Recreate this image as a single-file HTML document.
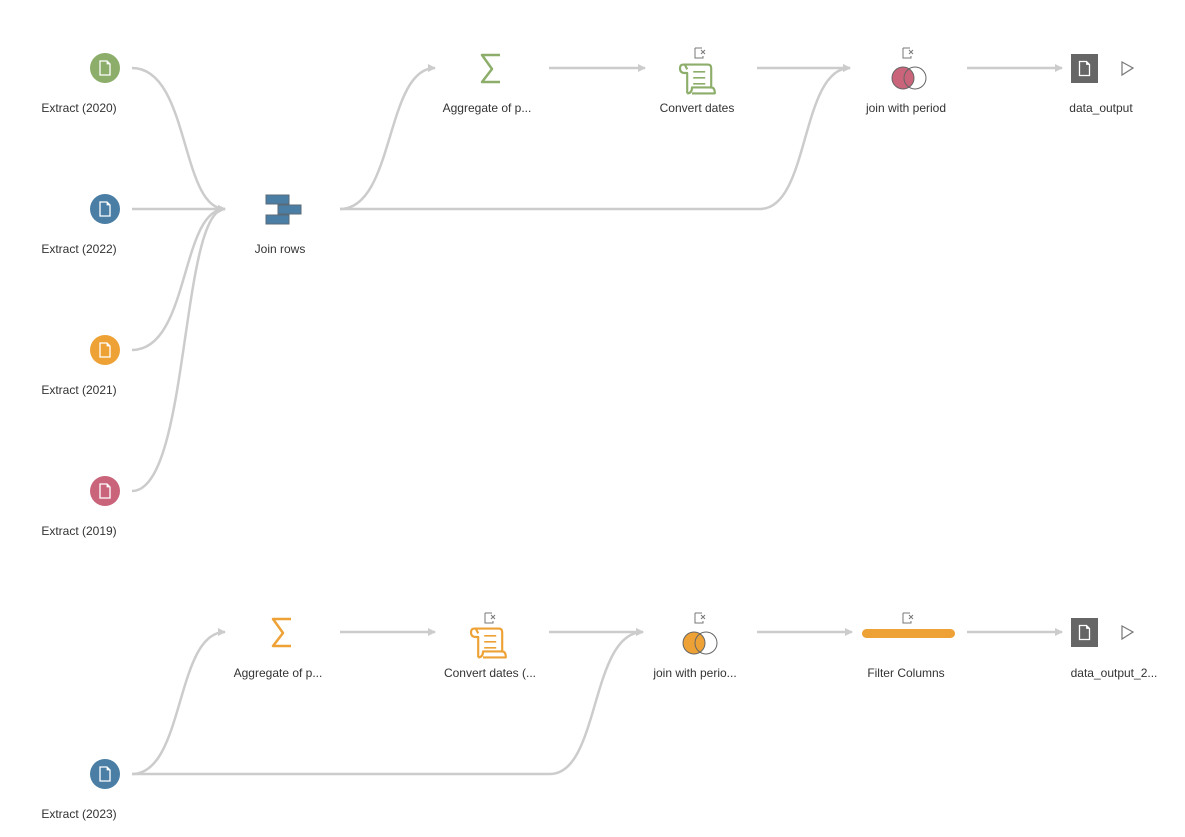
<!DOCTYPE html>
<html><head><meta charset="utf-8"><style>
html,body{margin:0;padding:0;background:#fff;width:1185px;height:837px;overflow:hidden}
svg text{font-family:"Liberation Sans",sans-serif;font-size:12px;fill:#333;text-anchor:middle}
</style></head><body>
<svg width="1185" height="837" viewBox="0 0 1185 837" xmlns="http://www.w3.org/2000/svg">
<defs>
<marker id="a" markerWidth="8" markerHeight="8" refX="7" refY="4" orient="auto" markerUnits="userSpaceOnUse">
<path d="M0,0 L8,4 L0,8 z" fill="#ccc"/></marker>
<g id="doc"><path d="M-5,-7 L2,-7 L5,-4 L5,7 L-5,7 z" fill="none" stroke="#fff" stroke-width="1.3"/><path d="M2,-7 L2,-4 L5,-4" fill="#fff" stroke="#fff" stroke-width="0.8"/></g>
<g id="x"><path d="M-5,-5 L2,-5 M-5,-5 L-5,5 L3,5 L3,3" fill="none" stroke="#777" stroke-width="1"/><path d="M1,-3 L5,1 M5,-3 L1,1" stroke="#777" stroke-width="1"/></g>
<g id="scroll" fill="none" stroke-width="1.8" stroke-linejoin="round" transform="scale(1.2)"><path d="M-12,-12 L8,-12 Q11,-12 11,-9 L11,8 M-12,-12 Q-15,-12 -15,-9 Q-15,-5 -11,-5 L-9,-5 L-9,12 M-11,-12 L-9,-8 M-5,12 L14,12 Q14,7 11,7 L-5,7 Q-5,12 -9,12"/><path d="M-4,-6 L6,-6 M-4,-1 L6,-1 M-4,4 L6,4" stroke-width="1.4"/></g>
</defs>
<g fill="none" stroke="#ccc" stroke-width="2.5">
<path d="M132,68 C190,68 180,209 225,209" marker-end="url(#a)"/>
<path d="M132,209 L225,209" marker-end="url(#a)"/>
<path d="M132,350 C190,350 180,209 225,209" marker-end="url(#a)"/>
<path d="M132,491 C190,491 180,209 225,209" marker-end="url(#a)"/>
<path d="M340,209 C395,209 385,68 435,68" marker-end="url(#a)"/>
<path d="M340,209 L760,209 C810,209 800,68 850,68" marker-end="url(#a)"/>
<path d="M549,68 L645,68" marker-end="url(#a)"/>
<path d="M757,68 L850,68" marker-end="url(#a)"/>
<path d="M967,68 L1062,68" marker-end="url(#a)"/>
<path d="M132,774 C185,774 175,632 225,632" marker-end="url(#a)"/>
<path d="M132,774 L550,774 C600,774 590,632 643,632" marker-end="url(#a)"/>
<path d="M340,632 L435,632" marker-end="url(#a)"/>
<path d="M549,632 L643,632" marker-end="url(#a)"/>
<path d="M757,632 L852,632" marker-end="url(#a)"/>
<path d="M967,632 L1062,632" marker-end="url(#a)"/>
</g>
<circle cx="105" cy="68" r="15" fill="#8cae6a"/><use href="#doc" x="105" y="68"/>
<circle cx="105" cy="209" r="15" fill="#4a7ea5"/><use href="#doc" x="105" y="209"/>
<circle cx="105" cy="350" r="15" fill="#eea236"/><use href="#doc" x="105" y="350"/>
<circle cx="105" cy="491" r="15" fill="#c9647a"/><use href="#doc" x="105" y="491"/>
<circle cx="105" cy="774" r="15" fill="#4a7ea5"/><use href="#doc" x="105" y="774"/>
<text x="79" y="112">Extract (2020)</text>
<text x="79" y="253">Extract (2022)</text>
<text x="79" y="394">Extract (2021)</text>
<text x="79" y="535">Extract (2019)</text>
<text x="79" y="818">Extract (2023)</text>
<g fill="#4a7ea5" stroke="#5a6b78" stroke-width="1">
<rect x="266" y="195" width="23" height="9"/><rect x="278" y="205" width="23" height="9"/><rect x="266" y="215" width="23" height="9"/></g>
<text x="280" y="253">Join rows</text>
<path d="M500,55 L482,55 L492,69 L482,82 L500,82" fill="none" stroke="#8cae6a" stroke-width="2.5" stroke-linejoin="round"/>
<text x="487" y="112">Aggregate of p...</text>
<use href="#x" x="700" y="53"/>
<use href="#scroll" x="698" y="79" stroke="#8cae6a"/>
<text x="697" y="112">Convert dates</text>
<use href="#x" x="908" y="53"/>
<circle cx="903" cy="78" r="11" fill="#c9647a" stroke="#666" stroke-width="1"/>
<circle cx="915" cy="78" r="11" fill="none" stroke="#666" stroke-width="1"/>
<text x="906" y="112">join with period</text>
<rect x="1071" y="54" width="27" height="29" fill="#666"/><use href="#doc" x="1084.5" y="68.5"/>
<path d="M1122,62 L1133,68 L1122,75 z" fill="none" stroke="#777" stroke-width="1.2"/>
<text x="1101" y="112">data_output</text>
<path d="M291,619 L273,619 L283,633 L273,646 L291,646" fill="none" stroke="#eea236" stroke-width="2.5" stroke-linejoin="round"/>
<text x="278" y="677">Aggregate of p...</text>
<use href="#x" x="490" y="618"/>
<use href="#scroll" x="489" y="643" stroke="#eea236"/>
<text x="490" y="677">Convert dates (...</text>
<use href="#x" x="700" y="618"/>
<circle cx="694" cy="643" r="11" fill="#eea236" stroke="#666" stroke-width="1"/>
<circle cx="706" cy="643" r="11" fill="none" stroke="#666" stroke-width="1"/>
<text x="695" y="677">join with perio...</text>
<use href="#x" x="908" y="618"/>
<rect x="862" y="629" width="93" height="9" rx="4.5" fill="#eea236"/>
<text x="906" y="677">Filter Columns</text>
<rect x="1071" y="618" width="27" height="29" fill="#666"/><use href="#doc" x="1084.5" y="632.5"/>
<path d="M1122,626 L1133,632 L1122,639 z" fill="none" stroke="#777" stroke-width="1.2"/>
<text x="1114" y="677">data_output_2...</text>
</svg>
</body></html>
